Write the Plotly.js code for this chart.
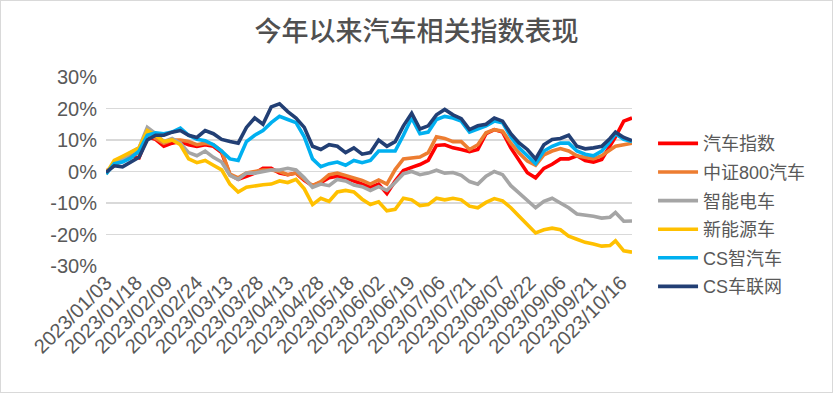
<!DOCTYPE html>
<html>
<head>
<meta charset="utf-8">
<script src="https://cdn.plot.ly/plotly-3.0.1.min.js"></script>
<style>
  html, body { margin: 0; padding: 0; background: #ffffff; }
  #wrap { position: relative; width: 833px; height: 393px; }
  #chart { width: 833px; height: 393px; }
  #frame { position: absolute; left: 0; top: 0; width: 831px; height: 391px; border: 1px solid #d9d9d9; pointer-events: none; }
</style>
</head>
<body>
<div id="wrap"><div id="chart"></div><div id="frame"></div></div>
<script>
// Full trading calendar (category axis order)
const tradingDays = [
  "2023/01/03","2023/01/04","2023/01/05","2023/01/06","2023/01/09","2023/01/10","2023/01/11","2023/01/12","2023/01/13","2023/01/16","2023/01/17","2023/01/18","2023/01/19","2023/01/20","2023/01/30","2023/01/31",
  "2023/02/01","2023/02/02","2023/02/03","2023/02/06","2023/02/07","2023/02/08","2023/02/09","2023/02/10","2023/02/13","2023/02/14","2023/02/15","2023/02/16","2023/02/17","2023/02/20","2023/02/21","2023/02/22","2023/02/23","2023/02/24","2023/02/27","2023/02/28",
  "2023/03/01","2023/03/02","2023/03/03","2023/03/06","2023/03/07","2023/03/08","2023/03/09","2023/03/10","2023/03/13","2023/03/14","2023/03/15","2023/03/16","2023/03/17","2023/03/20","2023/03/21","2023/03/22","2023/03/23","2023/03/24","2023/03/27","2023/03/28","2023/03/29","2023/03/30","2023/03/31",
  "2023/04/03","2023/04/04","2023/04/06","2023/04/07","2023/04/10","2023/04/11","2023/04/12","2023/04/13","2023/04/14","2023/04/17","2023/04/18","2023/04/19","2023/04/20","2023/04/21","2023/04/24","2023/04/25","2023/04/26","2023/04/27","2023/04/28",
  "2023/05/04","2023/05/05","2023/05/08","2023/05/09","2023/05/10","2023/05/11","2023/05/12","2023/05/15","2023/05/16","2023/05/17","2023/05/18","2023/05/19","2023/05/22","2023/05/23","2023/05/24","2023/05/25","2023/05/26","2023/05/29","2023/05/30","2023/05/31",
  "2023/06/01","2023/06/02","2023/06/05","2023/06/06","2023/06/07","2023/06/08","2023/06/09","2023/06/12","2023/06/13","2023/06/14","2023/06/15","2023/06/16","2023/06/19","2023/06/20","2023/06/21","2023/06/26","2023/06/27","2023/06/28","2023/06/29","2023/06/30",
  "2023/07/03","2023/07/04","2023/07/05","2023/07/06","2023/07/07","2023/07/10","2023/07/11","2023/07/12","2023/07/13","2023/07/14","2023/07/17","2023/07/18","2023/07/19","2023/07/20","2023/07/21","2023/07/24","2023/07/25","2023/07/26","2023/07/27","2023/07/28","2023/07/31",
  "2023/08/01","2023/08/02","2023/08/03","2023/08/04","2023/08/07","2023/08/08","2023/08/09","2023/08/10","2023/08/11","2023/08/14","2023/08/15","2023/08/16","2023/08/17","2023/08/18","2023/08/21","2023/08/22","2023/08/23","2023/08/24","2023/08/25","2023/08/28","2023/08/29","2023/08/30","2023/08/31",
  "2023/09/01","2023/09/04","2023/09/05","2023/09/06","2023/09/07","2023/09/08","2023/09/11","2023/09/12","2023/09/13","2023/09/14","2023/09/15","2023/09/18","2023/09/19","2023/09/20","2023/09/21","2023/09/22","2023/09/25","2023/09/26","2023/09/27","2023/09/28",
  "2023/10/09","2023/10/10","2023/10/11","2023/10/12","2023/10/13","2023/10/16","2023/10/17","2023/10/18","2023/10/19","2023/10/20"
];

// Tick labels shown on the category axis
const tickDates = ["2023/01/03","2023/01/18","2023/02/09","2023/02/24","2023/03/13","2023/03/28","2023/04/13","2023/04/28","2023/05/18","2023/06/02","2023/06/19","2023/07/06","2023/07/21","2023/08/07","2023/08/22","2023/09/06","2023/09/21","2023/10/16"];

const dates = [
  "2023/01/03","2023/01/06","2023/01/11","2023/01/16","2023/01/19","2023/01/31","2023/02/03","2023/02/08","2023/02/13","2023/02/16",
  "2023/02/21","2023/02/24","2023/03/01","2023/03/06","2023/03/09","2023/03/14","2023/03/17","2023/03/22","2023/03/27","2023/03/30",
  "2023/04/04","2023/04/10","2023/04/13","2023/04/18","2023/04/21","2023/04/26","2023/05/04","2023/05/09","2023/05/12","2023/05/17",
  "2023/05/22","2023/05/25","2023/05/30","2023/06/02","2023/06/07","2023/06/12","2023/06/15","2023/06/20","2023/06/27","2023/06/30",
  "2023/07/05","2023/07/10","2023/07/13","2023/07/18","2023/07/21","2023/07/26","2023/07/31","2023/08/03","2023/08/08","2023/08/11",
  "2023/08/16","2023/08/21","2023/08/24","2023/08/29","2023/09/01","2023/09/06","2023/09/11","2023/09/14","2023/09/19","2023/09/22",
  "2023/09/27","2023/10/10","2023/10/12","2023/10/17","2023/10/20"
];

// 汽车指数 (%)
const autoIndex = [
  0.0, 2.0, 4.0, 5.0, 4.3, 11.0, 10.2, 8.0, 9.0, 9.5,
  8.5, 8.0, 8.5, 8.0, 6.0, -1.0, -2.5, -1.5, -0.5, 1.0,
  1.0, -0.5, -1.0, -0.5, -2.8, -4.5, -3.5, -2.0, -1.5, -2.0,
  -3.0, -4.0, -5.0, -4.0, -7.0, -3.0, 0.3, 1.3, 2.2, 3.5,
  8.3, 8.5, 7.5, 7.0, 6.3, 7.0, 12.0, 13.3, 12.5, 7.5,
  3.3, -0.4, -2.0, 1.0, 2.3, 4.0, 4.0, 5.0, 3.5, 3.0,
  3.8, 8.0, 11.0, 16.0, 17.0
];
// 中证800汽车 (%)
const csi800Auto = [
  0.0, 2.0, 3.5, 5.0, 6.0, 12.0, 10.5, 9.0, 10.0, 10.0,
  9.5, 8.5, 9.0, 8.5, 6.5, -0.8, -2.0, -0.5, 0.0, 0.5,
  0.5, 0.0, -1.0, -0.5, -2.5, -4.5, -3.2, -1.0, -0.5, -1.2,
  -2.0, -2.8, -4.0, -2.7, -4.0, 0.6, 4.0, 4.2, 4.6, 6.0,
  11.0, 10.5, 9.5, 9.5, 7.0, 8.5, 12.3, 13.3, 12.8, 9.0,
  5.9, 3.3, 2.0, 5.3, 6.5, 7.3, 6.5, 5.0, 4.5, 4.0,
  5.0, 7.0, 8.0, 8.5, 9.0
];
// 智能电车 (%)
const smartEV = [
  -0.5, 2.5, 4.0, 6.0, 7.5, 14.0, 12.0, 9.5, 10.5, 9.0,
  6.0, 5.0, 6.5, 4.5, 3.0, -1.2, -2.5, -0.5, -0.5, 0.0,
  0.5, 0.5, 1.0, 0.5, -2.0, -5.0, -4.0, -4.5, -2.5, -3.0,
  -4.3, -4.8, -6.0, -4.8, -6.0, -3.5, -0.7, 0.0, -1.0, -0.5,
  0.4, -0.5, -0.3, -1.2, -3.2, -4.0, -1.5, 0.0, -1.0, -4.5,
  -6.8, -9.4, -11.5, -9.5, -8.5, -10.0, -11.5, -13.5, -13.8, -14.2,
  -14.8, -14.5, -13.0, -15.8, -15.7
];
// 新能源车 (%)
const newEnergy = [
  -0.8, 3.5, 4.8, 6.3, 7.5, 13.0, 11.5, 9.5, 10.0, 8.5,
  4.0, 2.8, 3.5, 2.0, 0.5, -4.0, -6.5, -5.0, -4.5, -4.2,
  -4.0, -3.0, -3.5, -2.5, -5.5, -10.5, -8.5, -9.5, -6.5, -6.0,
  -6.5, -8.8, -10.5, -9.6, -12.5, -12.0, -8.5, -9.0, -10.8, -10.5,
  -8.5, -9.0, -8.5, -9.0, -11.0, -11.5, -9.8, -8.6, -9.3, -11.5,
  -14.2, -16.8, -19.5, -18.5, -18.0, -18.5, -20.5, -21.5, -22.5, -23.0,
  -23.7, -23.5, -22.0, -25.2, -25.6
];
// CS智汽车 (%)
const csSmartAuto = [
  -0.8, 2.5, 3.0, 4.3, 6.5, 11.5, 12.3, 12.0, 12.5, 13.8,
  11.5, 10.2, 9.8, 8.5, 6.5, 4.0, 3.5, 9.5, 11.5, 13.0,
  15.5, 17.5, 16.5, 15.5, 11.0, 4.0, 1.5, 2.5, 3.0, 2.0,
  3.5, 2.8, 3.5, 6.5, 6.5, 6.5, 11.5, 17.0, 12.0, 12.5,
  16.5, 17.5, 17.0, 16.0, 12.5, 13.5, 14.5, 16.0, 15.5, 11.0,
  7.5, 5.0, 2.5, 6.5, 8.0, 9.0, 9.0, 6.5, 5.5, 5.0,
  6.5, 9.5, 12.0, 10.2, 9.5
];
// CS车联网 (%)
const csIoV = [
  -0.3, 1.8, 1.5, 3.0, 4.5, 10.0, 11.5, 11.5, 12.5, 13.0,
  11.5, 10.8, 13.0, 12.0, 10.2, 9.5, 9.0, 14.0, 17.0, 15.0,
  20.5, 21.5, 19.0, 17.0, 14.0, 8.0, 7.0, 8.5, 8.0, 6.0,
  7.5, 5.5, 6.0, 10.0, 8.0, 9.5, 14.5, 18.5, 13.5, 14.5,
  18.0, 19.7, 18.0, 16.8, 13.3, 14.5, 15.0, 17.0, 16.0, 12.0,
  9.1, 7.0, 4.0, 8.5, 10.2, 10.5, 11.5, 8.0, 7.2, 7.5,
  8.0, 10.5, 12.5, 10.8, 9.8
];

const seriesNames = ["汽车指数", "中证800汽车", "智能电车", "新能源车", "CS智汽车", "CS车联网"];
const seriesValues = [autoIndex, csi800Auto, smartEV, newEnergy, csSmartAuto, csIoV];
const seriesColors = ["#FF0000", "#ED7D31", "#A5A5A5", "#FFC000", "#00B0F0", "#223F74"];

const yTickValues = [-30, -20, -10, 0, 10, 20, 30];
const yTickLabels = ["-30%", "-20%", "-10%", "0%", "10%", "20%", "30%"];

const FONT = "'Liberation Sans', Arial, 'Noto Sans CJK SC', sans-serif";
const TXT = "#595959";

const traces = seriesNames.map((name, k) => ({
  type: "scatter",
  mode: "lines",
  name: name,
  legendgroup: "g" + k,
  x: dates,
  y: seriesValues[k],
  line: { color: seriesColors[k], width: 3.6 },
  hoverinfo: "skip"
}));

const layout = {
  width: 833,
  height: 393,
  paper_bgcolor: "#ffffff",
  plot_bgcolor: "#ffffff",
  margin: { l: 106, r: 201, t: 77, b: 127 },
  font: { family: FONT, color: TXT, size: 18 },
  title: {
    text: "今年以来汽车相关指数表现",
    font: { family: FONT, size: 27, color: "#505050", weight: 500 },
    x: 0.5, xanchor: "center",
    y: 0.92, yanchor: "middle"
  },
  showlegend: true,
  legend: {
    x: 1.04, xanchor: "left",
    y: 0.745, yanchor: "top",
    font: { family: FONT, size: 18, color: TXT },
    bgcolor: "rgba(0,0,0,0)",
    itemwidth: 40,
    traceorder: "grouped",
    tracegroupgap: 2.2
  },
  xaxis: {
    type: "category",
    categoryorder: "array",
    categoryarray: tradingDays,
    range: [0, tradingDays.length - 1],
    tickmode: "array",
    tickvals: tickDates,
    ticktext: tickDates,
    tickangle: -45,
    tickfont: { family: FONT, size: 20, color: TXT },
    showgrid: false,
    showline: false,
    zeroline: false,
    ticks: "",
    fixedrange: true
  },
  yaxis: {
    range: [-30, 30],
    tickmode: "array",
    tickvals: yTickValues,
    ticktext: yTickLabels,
    tickfont: { family: FONT, size: 20, color: TXT },
    showgrid: true,
    gridcolor: "#D9D9D9",
    gridwidth: 1.5,
    zeroline: false,
    showline: false,
    ticks: "",
    ticklabelstandoff: 8,
    fixedrange: true
  }
};

Plotly.newPlot("chart", traces, layout, { displayModeBar: false, staticPlot: true });
</script>
</body>
</html>
